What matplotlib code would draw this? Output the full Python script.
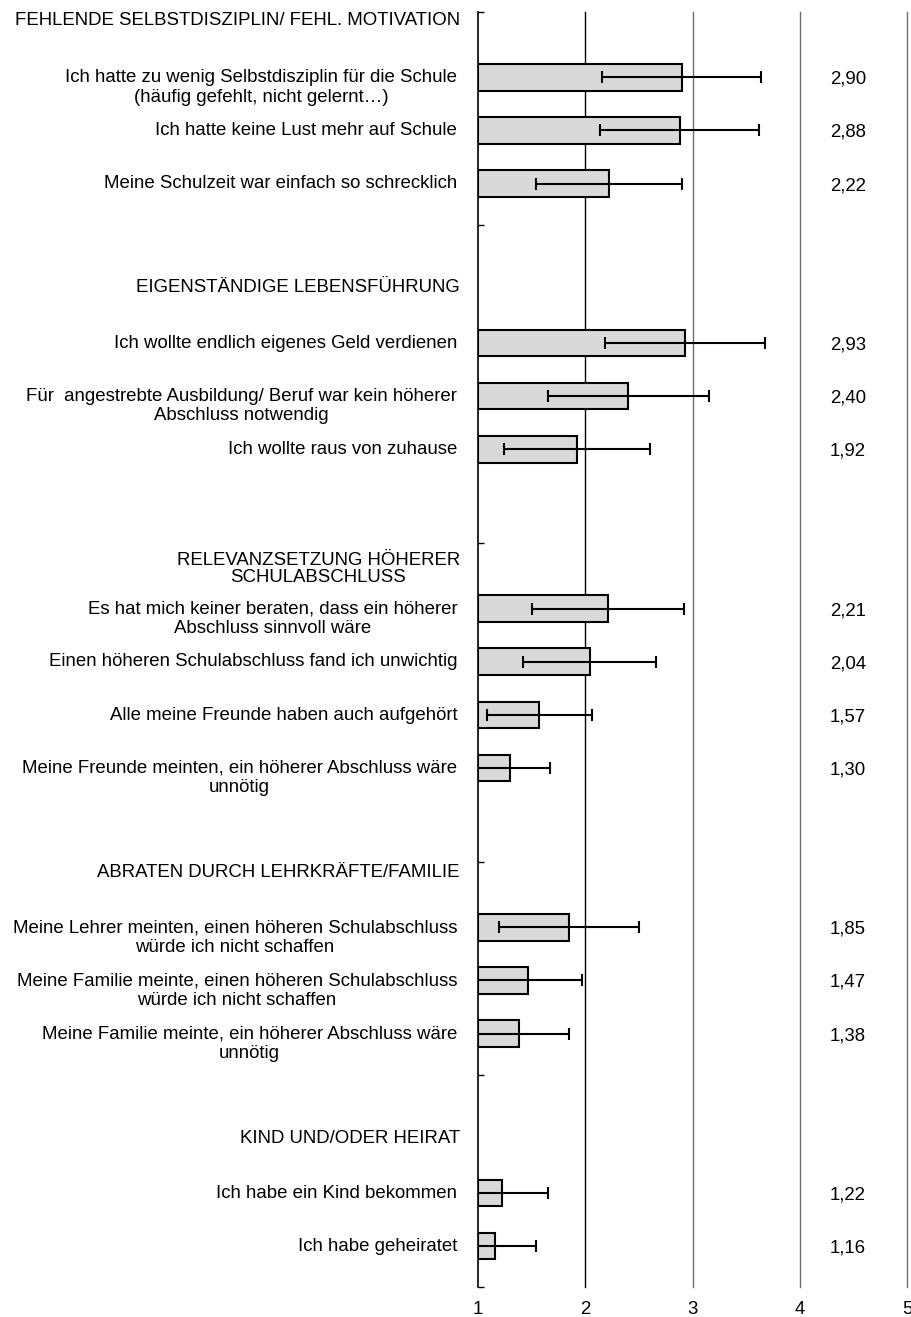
import numpy as np
import matplotlib.pyplot as plt

# ─────────────────────────────────────────────────────────────
# DATA
# ─────────────────────────────────────────────────────────────

GROUP_TITLES = [
    "FEHLENDE SELBSTDISZIPLIN/ FEHL. MOTIVATION",
    "EIGENSTÄNDIGE LEBENSFÜHRUNG",
    "RELEVANZSETZUNG HÖHERER\nSCHULABSCHLUSS",
    "ABRATEN DURCH LEHRKRÄFTE/FAMILIE",
    "KIND UND/ODER HEIRAT",
]

GROUP_SIZES = [3, 3, 4, 3, 2]

ITEM_LABELS = [
    "Ich hatte zu wenig Selbstdisziplin für die Schule\n(häufig gefehlt, nicht gelernt…)",
    "Ich hatte keine Lust mehr auf Schule",
    "Meine Schulzeit war einfach so schrecklich",
    "Ich wollte endlich eigenes Geld verdienen",
    "Für  angestrebte Ausbildung/ Beruf war kein höherer\nAbschluss notwendig",
    "Ich wollte raus von zuhause",
    "Es hat mich keiner beraten, dass ein höherer\nAbschluss sinnvoll wäre",
    "Einen höheren Schulabschluss fand ich unwichtig",
    "Alle meine Freunde haben auch aufgehört",
    "Meine Freunde meinten, ein höherer Abschluss wäre\nunnötig",
    "Meine Lehrer meinten, einen höheren Schulabschluss\nwürde ich nicht schaffen",
    "Meine Familie meinte, einen höheren Schulabschluss\nwürde ich nicht schaffen",
    "Meine Familie meinte, ein höherer Abschluss wäre\nunnötig",
    "Ich habe ein Kind bekommen",
    "Ich habe geheiratet",
]

MEANS = [2.90, 2.88, 2.22, 2.93, 2.40, 1.92, 2.21, 2.04, 1.57, 1.30,
         1.85, 1.47, 1.38, 1.22, 1.16]
SDS   = [0.74, 0.74, 0.68, 0.75, 0.75, 0.68, 0.71, 0.62, 0.49, 0.37,
         0.65, 0.50, 0.47, 0.43, 0.38]

X_TICKS = [1, 2, 3, 4, 5]

# ─────────────────────────────────────────────────────────────
# LAYOUT (rows: header, items, blank row between groups)
# ─────────────────────────────────────────────────────────────

N_ROWS     = 24
ROW_OFFSET = 0.23          # bars sit slightly below the slot line
HEADER_NUDGE = [-0.05, -0.02, 0.13, -0.01, 0.0]
FONT = "Liberation Sans"
FS = 13.4
TOP_SHIFT = 6              # points: first text line centred on the row

header_rows, item_rows = [], []
row = 0
for size in GROUP_SIZES:
    header_rows.append(row)
    item_rows.extend(range(row + 1, row + 1 + size))
    row += size + 2
item_y = np.array(item_rows) + ROW_OFFSET

plt.rcParams['font.family'] = [FONT, 'DejaVu Sans']

fig = plt.figure(figsize=(9.12, 13.17), dpi=100)
ax = fig.add_axes([478 / 912, 1 - 1287 / 1317, 429 / 912, 1275 / 1317])

means = np.array(MEANS)
ax.barh(item_y, means - 1, left=1, height=0.5, color='#d9d9d9',
        edgecolor='black', linewidth=1.5, zorder=2)
ax.errorbar(means, item_y, xerr=SDS, fmt='none', ecolor='black',
            elinewidth=1.5, capsize=4.5, capthick=1.5, zorder=3)

# vertical reference lines
for xv in X_TICKS[1:]:
    ax.axvline(xv, color='black' if xv == 2 else '#6e6e6e', linewidth=1.0,
               zorder=1, clip_on=False)

ax.set_xlim(1, 5)
ax.set_ylim(N_ROWS, 0)

ax.set_xticks(X_TICKS)
ax.set_xticklabels([str(v) for v in X_TICKS], fontsize=FS)
ax.tick_params(axis='x', length=0, pad=10)

ax.set_yticks([0, 4, 10, 16, 20, 24])
ax.set_yticklabels([])
ax.tick_params(axis='y', direction='in', length=4, width=1)

for side in ['top', 'right', 'bottom']:
    ax.spines[side].set_visible(False)
ax.spines['left'].set_linewidth(1.2)

ytrans = ax.get_yaxis_transform()

# item labels, right-aligned left of the axis
for label, y in zip(ITEM_LABELS, item_y):
    ax.annotate(label, xy=(0, y), xycoords=ytrans, xytext=(-15, TOP_SHIFT),
                textcoords='offset points', ha='right', va='top',
                multialignment='center', fontsize=FS, linespacing=1.2)

# group headers
for title, hr, nudge in zip(GROUP_TITLES, header_rows, HEADER_NUDGE):
    ax.annotate(title, xy=(0, hr + 0.2 + nudge), xycoords=ytrans,
                xytext=(-13, TOP_SHIFT), textcoords='offset points',
                ha='right', va='top', multialignment='center', fontsize=FS,
                linespacing=1.0)

# mean values on the right
for m, y in zip(MEANS, item_y):
    ax.text(4.45, y, f"{m:.2f}".replace('.', ','), ha='center',
            va='center_baseline', fontsize=FS)

fig.savefig("out.png", dpi=100)
